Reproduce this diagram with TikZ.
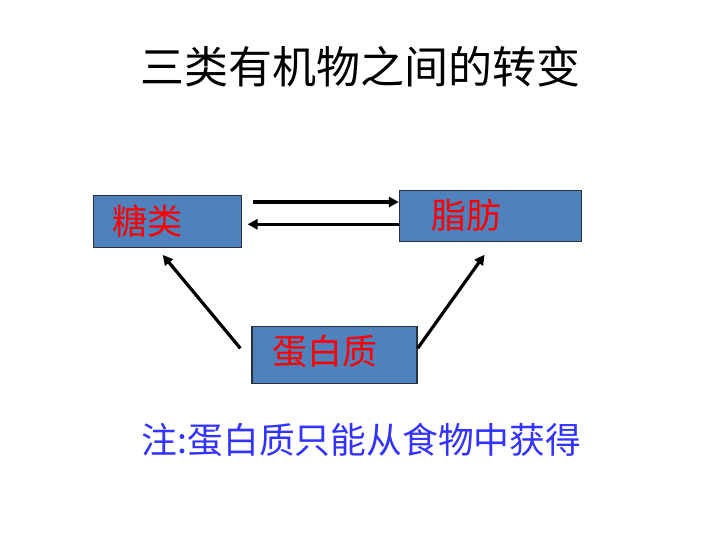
\documentclass[tikz,border=0pt]{standalone}
\usepackage{fontspec}
\newfontfamily\cjk{Noto Sans CJK SC}
\usetikzlibrary{arrows.meta}
\definecolor{boxblue}{RGB}{79,129,189}
\definecolor{boxline}{RGB}{40,48,60}
\definecolor{noteblue}{RGB}{51,51,255}
\tikzset{
  box/.style={draw=boxline, line width=1.3pt, fill=boxblue, inner sep=0pt},
  lbl/.style={anchor=west, text=red, font=\cjk\fontsize{35}{35}\selectfont, inner sep=0pt},
  arr/.style={line width=3.2pt, -{Triangle[length=10pt,width=10pt]}}
}
\begin{document}
\begin{tikzpicture}[x=1pt,y=-1pt]
	\useasboundingbox (0,0) rectangle (720,540);
	
	\node[font=\cjk\fontsize{44}{44}\selectfont] at (360.5, 66.5) (title) {三类有机物之间的转变};
	
	\node[box, minimum width=148, minimum height=51.5] at (167.2, 221.5) (tang) {};
	\node[box, minimum width=182, minimum height=51.5] at (490.5, 216)   (zhi)  {};
	\node[box, minimum width=165, minimum height=57]   at (334.5, 354.8) (dan)  {};
	
	\node[lbl] at (112.5, 221)  (tangT) {糖类};
	\node[lbl] at (431, 215.5)  (zhiT)  {脂肪};
	\node[lbl] at (272, 351.5)  (danT)  {蛋白质};
	
	% draw edges
	\draw[arr] ([shift={(11,-19.5)}]tang.east) -- ([shift={(0,-14)}]zhi.west);
	\draw[arr] ([shift={(0,8.3)}]zhi.west) -- ([shift={(5.7,2.8)}]tang.east);
	
	\draw[arr] ([shift={(-11,-6.5)}]dan.west) -- ([shift={(-4.5,7)}]tang.south);
	\draw[arr] ([shift={(0,-6.5)}]dan.east) -- ([shift={(-6,12.3)}]zhi.south);
	
	\node[text=noteblue, font=\cjk\fontsize{35.8}{36}\selectfont] at (361.5, 440) (note) {注:蛋白质只能从食物中获得};
	
\end{tikzpicture}
\end{document}
